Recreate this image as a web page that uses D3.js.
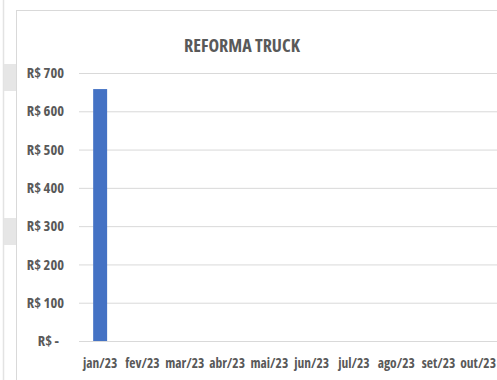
<!DOCTYPE html>
<html>
<head>
<meta charset="utf-8">
<script src="https://cdn.jsdelivr.net/npm/d3@7"></script>
<style>
  html, body { margin: 0; padding: 0; background: #fff; }
  svg { display: block; }
  text { font-family: "Open Sans", sans-serif; font-stretch: 75%; font-weight: 700; fill: #595959; }
</style>
</head>
<body>
<svg id="chart" width="497" height="380"></svg>
<script>
// Monthly spend on truck refurbishment
const months = ["jan/23", "fev/23", "mar/23", "abr/23", "mai/23", "jun/23", "jul/23", "ago/23", "set/23", "out/23"];
const values = [658, 0, 0, 0, 0, 0, 0, 0, 0, 0];
const yTicks = [0, 100, 200, 300, 400, 500, 600, 700];
const title = "REFORMA TRUCK";

const W = 497, H = 380;
const svg = d3.select("#chart");

// Worksheet backdrop: column separator and shaded cells left of the chart
svg.append("line").attr("x1", 3.5).attr("x2", 3.5).attr("y1", 0).attr("y2", H)
  .attr("stroke", "#e3e3e3").attr("stroke-width", 1.5);
svg.append("rect").attr("x", 4).attr("y", 64).attr("width", 12).attr("height", 27).attr("fill", "#e6e6e6");
svg.append("rect").attr("x", 4).attr("y", 218).attr("width", 12).attr("height", 27).attr("fill", "#e6e6e6");

// Chart frame
svg.append("rect").attr("x", 16.5).attr("y", 10.5).attr("width", W).attr("height", H)
  .attr("fill", "#fff").attr("stroke", "#d9d9d9");

const plot = { left: 79, top: 73, bottom: 341 };
const bandW = 42.3;

const x = d3.scaleBand().domain(months)
  .range([plot.left, plot.left + bandW * months.length])
  .paddingInner(0.67).paddingOuter(0.335);
const y = d3.scaleLinear().domain([0, 700]).range([plot.bottom, plot.top]);

// Gridlines and value labels
const yAxis = d3.axisLeft(y).tickValues(yTicks).tickSize(0).tickPadding(15)
  .tickFormat(d => d === 0 ? "R$ -" : "R$ " + d);
const gy = svg.append("g").attr("transform", `translate(${plot.left},0)`).call(yAxis);
gy.select(".domain").remove();
gy.selectAll(".tick line").remove();
gy.selectAll(".tick").append("line")
  .attr("x1", 0).attr("x2", W - plot.left).attr("stroke", "#d9d9d9").attr("stroke-width", 1);
gy.selectAll(".tick text").attr("font-size", 14.5).attr("fill", "#595959")
  .attr("dx", d => d === 0 ? -5 : 0);

// Bars
svg.append("g").selectAll("rect").data(months.map((m, i) => ({ m, v: values[i] })).filter(d => d.v > 0))
  .join("rect")
  .attr("x", d => x(d.m)).attr("width", x.bandwidth())
  .attr("y", d => y(d.v)).attr("height", d => y(0) - y(d.v))
  .attr("fill", "#4472c4");

// Category axis
const xAxis = d3.axisBottom(x).tickSize(0).tickPadding(17);
const gx = svg.append("g").attr("transform", `translate(0,${plot.bottom})`).call(xAxis);
gx.select(".domain").remove();
gx.selectAll(".tick text").attr("font-size", 13.5).attr("fill", "#595959");
// nudge any label that would run past the right edge back inside
gx.selectAll(".tick text").each(function () {
  const b = this.getBBox();
  const t = d3.select(this.parentNode).attr("transform");
  const tx = +t.match(/translate\(([-\d.]+)/)[1];
  const over = tx + b.x + b.width - (W - 1);
  if (over > 0) d3.select(this).attr("dx", -over);
});

// Title
svg.append("text").attr("x", 242).attr("y", 52).attr("text-anchor", "middle")
  .attr("font-size", 18).text(title);
</script>
</body>
</html>
